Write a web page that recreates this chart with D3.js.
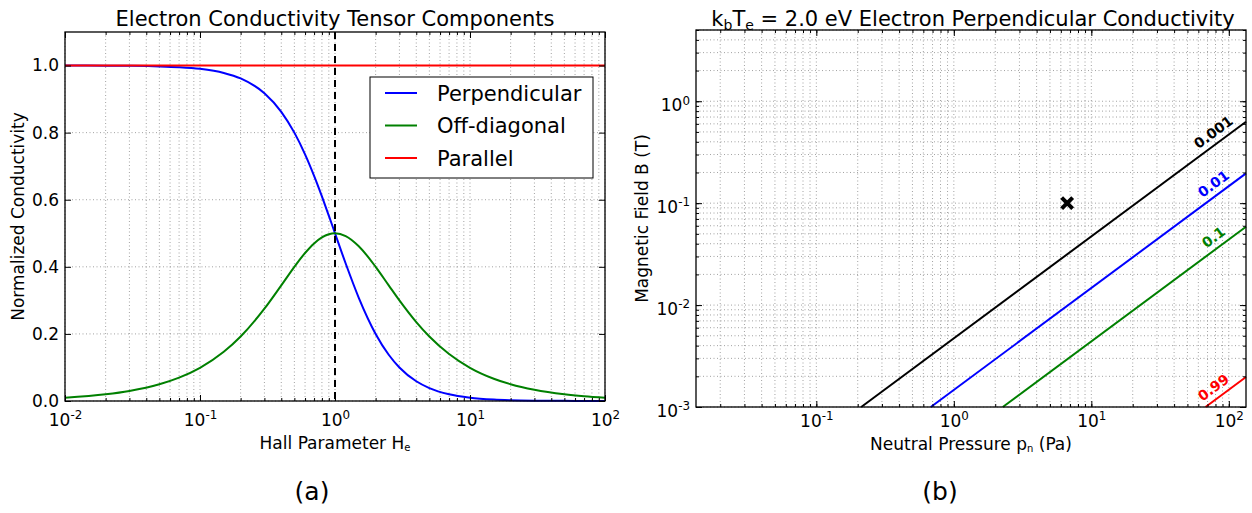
<!DOCTYPE html>
<html>
<head>
<meta charset="utf-8">
<script src="https://cdn.jsdelivr.net/npm/d3@7"></script>
<style>
  body { margin: 0; background: #fff; }
  text { font-family: "DejaVu Sans", sans-serif; }
</style>
</head>
<body>
<div id="chart"></div>
<script>
// Panel (a): conductivity components vs Hall parameter
var hallParam = [0.01, 0.02, 0.03, 0.05, 0.07, 0.1, 0.15, 0.2, 0.3, 0.4, 0.5, 0.6, 0.7, 0.8, 0.9, 1,
  1.2, 1.5, 2, 2.5, 3, 4, 5, 7, 10, 15, 20, 30, 50, 70, 100];
var perpVals = [0.9999, 0.9996, 0.9991, 0.9975, 0.9951, 0.9901, 0.978, 0.9615, 0.9174, 0.8621, 0.8, 0.7353,
  0.6711, 0.6098, 0.5525, 0.5, 0.4098, 0.3077, 0.2, 0.1379, 0.1, 0.0588, 0.0385, 0.02, 0.0099, 0.0044,
  0.0025, 0.0011, 0.0004, 0.0002, 0.0001];
var offDiagVals = [0.01, 0.02, 0.03, 0.0499, 0.0697, 0.099, 0.1467, 0.1923, 0.2752, 0.3448, 0.4, 0.4412,
  0.4698, 0.4878, 0.4972, 0.5, 0.4918, 0.4615, 0.4, 0.3448, 0.3, 0.2353, 0.1923, 0.14, 0.099, 0.0664,
  0.0499, 0.0333, 0.02, 0.0143, 0.01];
var parallelVals = hallParam.map(function() { return 1; });
var seriesNames = ["Perpendicular", "Off-diagonal", "Parallel"];
var seriesColors = ["#0000ff", "#008000", "#ff0000"];
var leftYTicks = [0, 0.2, 0.4, 0.6, 0.8, 1.0];
var leftXTicks = [0.01, 0.1, 1, 10, 100];

// Panel (b): contours of perpendicular conductivity
var contourLevels = ["0.001", "0.01", "0.1", "0.99"];
var contourColors = ["#000000", "#0000ff", "#008000", "#ff0000"];
var contourP = [[0.212, 133.3], [0.68, 133.3], [2.27, 133.3], [67.7, 133.3]];
var contourB = [[0.001, 0.629], [0.001, 0.196], [0.001, 0.0587], [0.001, 0.00197]];
var markerP = [6.67];
var markerB = [0.1];
var rightXTicks = [0.1, 1, 10, 100];
var rightYTicks = [0.001, 0.01, 0.1, 1];

var svg = d3.select("#chart").append("svg")
  .attr("width", 1252).attr("height", 513);

var gridColor = "#8a8a8a";

function supLabel(sel, base, exp) {
  sel.text(null);
  sel.append("tspan").text(base);
  sel.append("tspan").attr("dy", "-0.55em").attr("font-size", "0.7em").text(exp);
}

function logMinors(domain) {
  var out = [];
  var lo = Math.floor(Math.log10(domain[0])), hi = Math.ceil(Math.log10(domain[1]));
  for (var e = lo; e <= hi; e++) {
    for (var m = 1; m < 10; m++) {
      var v = m * Math.pow(10, e);
      if (v >= domain[0] * 0.999 && v <= domain[1] * 1.001) out.push(v);
    }
  }
  return out;
}

function panel(box) {
  return svg.append("g").attr("transform", "translate(" + box.x + "," + box.y + ")");
}

// ---------- Panel (a) ----------
var A = {x: 65, y: 32, w: 540, h: 369};
var ga = panel(A);
var xa = d3.scaleLog().domain([0.01, 100]).range([0, A.w]);
var ya = d3.scaleLinear().domain([0, 1.1]).range([A.h, 0]);
var xaAll = logMinors(xa.domain());

// grid
ga.append("g").selectAll("line").data(xaAll).enter().append("line")
  .attr("x1", function(d) { return xa(d); }).attr("x2", function(d) { return xa(d); })
  .attr("y1", 0).attr("y2", A.h)
  .attr("stroke", gridColor).attr("stroke-width", 0.8).attr("stroke-dasharray", "1,2.5");
ga.append("g").selectAll("line").data(leftYTicks).enter().append("line")
  .attr("x1", 0).attr("x2", A.w)
  .attr("y1", function(d) { return ya(d); }).attr("y2", function(d) { return ya(d); })
  .attr("stroke", gridColor).attr("stroke-width", 0.8).attr("stroke-dasharray", "1,2.5");

// curves
var lineA = d3.line().x(function(d) { return xa(d[0]); }).y(function(d) { return ya(d[1]); })
  .curve(d3.curveMonotoneX);
var seriesVals = [perpVals, offDiagVals, parallelVals];
seriesVals.forEach(function(vals, i) {
  ga.append("path").datum(d3.zip(hallParam, vals))
    .attr("d", lineA).attr("fill", "none")
    .attr("stroke", seriesColors[i]).attr("stroke-width", 2);
});

// dashed line at H = 1
ga.append("line").attr("x1", xa(1)).attr("x2", xa(1)).attr("y1", 0).attr("y2", A.h)
  .attr("stroke", "#000").attr("stroke-width", 2).attr("stroke-dasharray", "7,5");

// axes (ticks inward, all four sides)
function axesA() {
  var bottom = d3.axisBottom(xa).tickValues(leftXTicks).tickSize(-6).tickPadding(8);
  var top = d3.axisTop(xa).tickValues(leftXTicks).tickSize(-6).tickFormat("");
  var minorB = d3.axisBottom(xa).tickValues(xaAll).tickSize(-3).tickFormat("");
  var minorT = d3.axisTop(xa).tickValues(xaAll).tickSize(-3).tickFormat("");
  var left = d3.axisLeft(ya).tickValues(leftYTicks).tickSize(-6).tickPadding(6)
    .tickFormat(d3.format(".1f"));
  var right = d3.axisRight(ya).tickValues(leftYTicks).tickSize(-6).tickFormat("");
  var gb = ga.append("g").attr("transform", "translate(0," + A.h + ")").call(bottom);
  ga.append("g").attr("transform", "translate(0," + A.h + ")").call(minorB);
  ga.append("g").call(top);
  ga.append("g").call(minorT);
  var gl = ga.append("g").call(left);
  ga.append("g").attr("transform", "translate(" + A.w + ",0)").call(right);
  ga.selectAll(".domain").remove();
  ga.selectAll(".tick line").attr("stroke", "#000");
  gl.selectAll("text").attr("font-size", 17).attr("fill", "#000");
  gb.selectAll(".tick text").attr("font-size", 17).attr("fill", "#000").attr("dy", "1em")
    .each(function(d) { supLabel(d3.select(this), "10", String(Math.round(Math.log10(d)))); });
}
axesA();
ga.append("rect").attr("width", A.w).attr("height", A.h)
  .attr("fill", "none").attr("stroke", "#000").attr("stroke-width", 1.3);

// legend
var leg = ga.append("g").attr("transform", "translate(" + (370 - A.x) + "," + (77 - A.y) + ")");
leg.append("rect").attr("width", 223).attr("height", 101)
  .attr("fill", "#fff").attr("stroke", "#000").attr("stroke-width", 1);
seriesNames.forEach(function(name, i) {
  var yy = 16 + i * 32.5;
  leg.append("line").attr("x1", 15).attr("x2", 47).attr("y1", yy).attr("y2", yy)
    .attr("stroke", seriesColors[i]).attr("stroke-width", 2);
  leg.append("text").attr("x", 67).attr("y", yy).attr("dy", "0.36em")
    .attr("font-size", 21).text(name);
});

// titles and labels
svg.append("text").attr("x", A.x + A.w / 2).attr("y", 26).attr("text-anchor", "middle")
  .attr("font-size", 21).text("Electron Conductivity Tensor Components");
svg.append("text").attr("transform", "translate(24," + (A.y + A.h / 2) + ") rotate(-90)")
  .attr("text-anchor", "middle").attr("font-size", 17).text("Normalized Conductivity");
var xla = svg.append("text").attr("x", A.x + A.w / 2).attr("y", 449).attr("text-anchor", "middle")
  .attr("font-size", 17);
xla.append("tspan").text("Hall Parameter H");
xla.append("tspan").attr("font-size", 10).attr("dy", 2).text("e");
svg.append("text").attr("x", 312).attr("y", 500).attr("text-anchor", "middle")
  .attr("font-family", "Liberation Serif, serif").attr("font-size", 25).text("(a)");

// ---------- Panel (b) ----------
var B = {x: 696, y: 30, w: 550, h: 377};
var gbp = panel(B);
var xb = d3.scaleLog().domain([0.01333, 133.3]).range([0, B.w]);
var yb = d3.scaleLog().domain([0.001, 5]).range([B.h, 0]);
var xbAll = logMinors(xb.domain());
var ybAll = logMinors(yb.domain());

gbp.append("g").selectAll("line").data(xbAll).enter().append("line")
  .attr("x1", function(d) { return xb(d); }).attr("x2", function(d) { return xb(d); })
  .attr("y1", 0).attr("y2", B.h)
  .attr("stroke", gridColor).attr("stroke-width", 0.8).attr("stroke-dasharray", "1,2.5");
gbp.append("g").selectAll("line").data(ybAll).enter().append("line")
  .attr("x1", 0).attr("x2", B.w)
  .attr("y1", function(d) { return yb(d); }).attr("y2", function(d) { return yb(d); })
  .attr("stroke", gridColor).attr("stroke-width", 0.8).attr("stroke-dasharray", "1,2.5");

var lineB = d3.line().x(function(d) { return xb(d[0]); }).y(function(d) { return yb(d[1]); });
contourLevels.forEach(function(lev, i) {
  var pts = d3.zip(contourP[i], contourB[i]);
  gbp.append("path").datum(pts).attr("d", lineB).attr("fill", "none")
    .attr("stroke", contourColors[i]).attr("stroke-width", 2);
  // label along the line near the right edge
  var x0 = xb(pts[0][0]), y0 = yb(pts[0][1]), x1 = xb(pts[1][0]), y1 = yb(pts[1][1]);
  var ang = Math.atan2(y1 - y0, x1 - x0);
  var lx = B.w - 26;
  var t = (lx - x0) / (x1 - x0);
  var ly = y0 + t * (y1 - y0);
  var off = 11;
  gbp.append("text")
    .attr("transform", "translate(" + (lx + off * Math.sin(ang)) + "," + (ly - off * Math.cos(ang)) +
      ") rotate(" + (ang * 180 / Math.PI) + ")")
    .attr("text-anchor", "middle").attr("dy", "0.35em")
    .attr("font-size", 14).attr("font-weight", "bold").attr("fill", contourColors[i]).text(lev);
});

// operating point marker (thick x)
gbp.selectAll("path.marker").data(d3.zip(markerP, markerB)).enter().append("path")
  .attr("class", "marker")
  .attr("d", "M-5.5,-5.5L5.5,5.5M-5.5,5.5L5.5,-5.5")
  .attr("transform", function(d) { return "translate(" + xb(d[0]) + "," + yb(d[1]) + ")"; })
  .attr("fill", "none").attr("stroke", "#000").attr("stroke-width", 4);

function axesB() {
  var bottom = d3.axisBottom(xb).tickValues(rightXTicks).tickSize(-6).tickPadding(3);
  var top = d3.axisTop(xb).tickValues(rightXTicks).tickSize(-6).tickFormat("");
  var minorB = d3.axisBottom(xb).tickValues(xbAll).tickSize(-3).tickFormat("");
  var minorT = d3.axisTop(xb).tickValues(xbAll).tickSize(-3).tickFormat("");
  var left = d3.axisLeft(yb).tickValues(rightYTicks).tickSize(-6).tickPadding(6);
  var right = d3.axisRight(yb).tickValues(rightYTicks).tickSize(-6).tickFormat("");
  var minorL = d3.axisLeft(yb).tickValues(ybAll).tickSize(-3).tickFormat("");
  var minorR = d3.axisRight(yb).tickValues(ybAll).tickSize(-3).tickFormat("");
  var gb = gbp.append("g").attr("transform", "translate(0," + B.h + ")").call(bottom);
  gbp.append("g").attr("transform", "translate(0," + B.h + ")").call(minorB);
  gbp.append("g").call(top);
  gbp.append("g").call(minorT);
  var gl = gbp.append("g").call(left);
  gbp.append("g").call(minorL);
  gbp.append("g").attr("transform", "translate(" + B.w + ",0)").call(right);
  gbp.append("g").attr("transform", "translate(" + B.w + ",0)").call(minorR);
  gbp.selectAll(".domain").remove();
  gbp.selectAll(".tick line").attr("stroke", "#000");
  gb.selectAll(".tick text").attr("font-size", 17).attr("fill", "#000").attr("dy", "1em")
    .each(function(d) { supLabel(d3.select(this), "10", String(Math.round(Math.log10(d)))); });
  gl.selectAll(".tick text").attr("font-size", 17).attr("fill", "#000").attr("dy", "0.55em")
    .each(function(d) { supLabel(d3.select(this), "10", String(Math.round(Math.log10(d)))); });
}
axesB();
gbp.append("rect").attr("width", B.w).attr("height", B.h)
  .attr("fill", "none").attr("stroke", "#000").attr("stroke-width", 1.3);

var tb = svg.append("text").attr("x", B.x + B.w / 2 + 2).attr("y", 26).attr("text-anchor", "middle")
  .attr("font-size", 21);
tb.append("tspan").text("k");
tb.append("tspan").attr("font-size", 14).attr("dy", 4).text("b");
tb.append("tspan").attr("dy", -4).text("T");
tb.append("tspan").attr("font-size", 14).attr("dy", 4).text("e");
tb.append("tspan").attr("dy", -4).text(" = 2.0 eV Electron Perpendicular Conductivity");
svg.append("text").attr("transform", "translate(648," + (B.y + B.h / 2) + ") rotate(-90)")
  .attr("text-anchor", "middle").attr("font-size", 17).text("Magnetic Field B (T)");
var xlb = svg.append("text").attr("x", B.x + B.w / 2).attr("y", 450).attr("text-anchor", "middle")
  .attr("font-size", 17);
xlb.append("tspan").text("Neutral Pressure p");
xlb.append("tspan").attr("font-size", 10).attr("dy", 2).text("n");
xlb.append("tspan").attr("dy", -2).text(" (Pa)");
svg.append("text").attr("x", 940).attr("y", 500).attr("text-anchor", "middle")
  .attr("font-family", "Liberation Serif, serif").attr("font-size", 25).text("(b)");
</script>
</body>
</html>
